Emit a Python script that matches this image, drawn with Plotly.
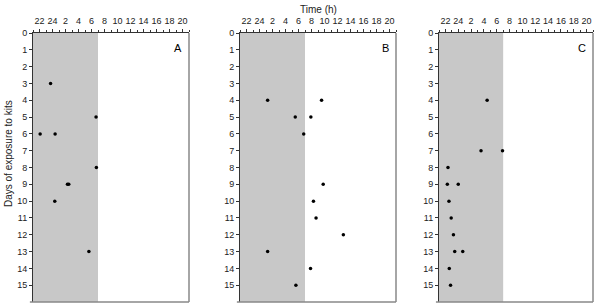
import plotly.graph_objects as go

# Tick labels (clock hours), axis spans 21:00 -> 21:00 next day (continuous hours 21..45)
tick_hours = [22, 24, 26, 28, 30, 32, 34, 36, 38, 40, 42, 44]
tick_labels = ["22", "24", "2", "4", "6", "8", "10", "12", "14", "16", "18", "20"]
day_ticks = list(range(0, 16))

# Dark period (shaded): 21:00 -> 07:00
dark_start = 21
dark_end = 31

# Panel A
a_days = [3, 5, 6, 6, 8, 9, 9.0, 10, 13]
a_hours = [23.7, 30.7, 22.1, 24.4, 30.75, 26.3, 26.5, 24.35, 29.6]
# Panel B
b_days = [4, 4, 5, 5, 6, 9, 10, 11, 12, 13, 14, 15]
b_hours = [25.25, 33.55, 29.5, 31.9, 30.8, 33.8, 32.3, 32.7, 36.9, 25.25, 31.85, 29.6]
# Panel C
c_days = [4, 7, 7, 8, 9, 9, 10, 11, 12, 13, 13, 14, 15]
c_hours = [28.5, 27.55, 30.9, 22.4, 22.3, 24.0, 22.55, 22.9, 23.25, 23.45, 24.7, 22.6, 22.8]

panels = [("A", a_hours, a_days), ("B", b_hours, b_days), ("C", c_hours, c_days)]
domains = [[33/600, 189/600], [240/600, 396/600], [439/600, 593/600]]
ydom = [6/308, 275/308]

fig = go.Figure()
FONT = "Liberation Sans, Arial, sans-serif"

for i, (label, xs, ys) in enumerate(panels):
    n = "" if i == 0 else str(i + 1)
    fig.add_trace(go.Scatter(
        x=xs, y=ys, mode="markers",
        marker=dict(color="black", size=3.5),
        xaxis="x" + n, yaxis="y" + n, showlegend=False, hoverinfo="skip"))
    fig.update_layout(**{
        "xaxis" + n: dict(
            domain=domains[i], range=[21, 45], side="top", anchor="y" + n,
            tickvals=tick_hours, ticktext=tick_labels, ticks="outside", ticklen=3,
            tickwidth=1, tickcolor="#333", showgrid=False, zeroline=False,
            showline=True, linecolor="#333", linewidth=1, mirror=False,
            minor=dict(dtick=1, ticks="outside", ticklen=2, tickcolor="#333"),
            tickfont=dict(size=9, family=FONT, color="#222"), ticklabelstandoff=1,
            automargin=False, fixedrange=True),
        "yaxis" + n: dict(
            domain=ydom, range=[16, 0], anchor="x" + n,
            tickvals=day_ticks, ticks="outside", ticklen=3, tickcolor="#333",
            showgrid=False, zeroline=False, showline=True, linecolor="#333",
            linewidth=1, mirror=False, automargin=False, fixedrange=True,
            tickfont=dict(size=9, family=FONT, color="#222")),
    })
    fig.add_shape(type="rect", xref="x" + n, yref="y" + n,
                  x0=dark_start, x1=dark_end, y0=0, y1=16,
                  fillcolor="#c8c8c8", line=dict(width=0), layer="below")
    # gray right and bottom frame lines
    fig.add_shape(type="line", xref="x" + n + " domain", yref="y" + n + " domain",
                  x0=1, x1=1, y0=0, y1=1, line=dict(color="#888", width=1.5))
    fig.add_shape(type="line", xref="x" + n + " domain", yref="y" + n + " domain",
                  x0=-0.02, x1=1, y0=0, y1=0, line=dict(color="#888", width=1.5))
    fig.add_annotation(text=label, xref="x" + n + " domain", yref="y" + n + " domain",
                       x=0.97, y=0.975, xanchor="right", yanchor="top", showarrow=False,
                       font=dict(size=11, family=FONT, color="black"))

fig.add_annotation(text="Time (h)", xref="paper", yref="paper", x=318/600, y=1 - 9/308,
                   xanchor="center", yanchor="middle", showarrow=False,
                   font=dict(size=10, family=FONT, color="#222"))
fig.add_annotation(text="Days of exposure to kits", xref="paper", yref="paper",
                   x=8/600, y=0.5, textangle=-90, xanchor="center", yanchor="middle",
                   showarrow=False, font=dict(size=10, family=FONT, color="#222"))

fig.update_layout(width=600, height=308, margin=dict(l=0, r=0, t=0, b=0, autoexpand=False),
                  paper_bgcolor="white", plot_bgcolor="white")
fig.write_html("out.html", config={"displayModeBar": False, "staticPlot": True},
               post_script="document.body.style.margin='0';document.body.style.overflow='hidden';")
